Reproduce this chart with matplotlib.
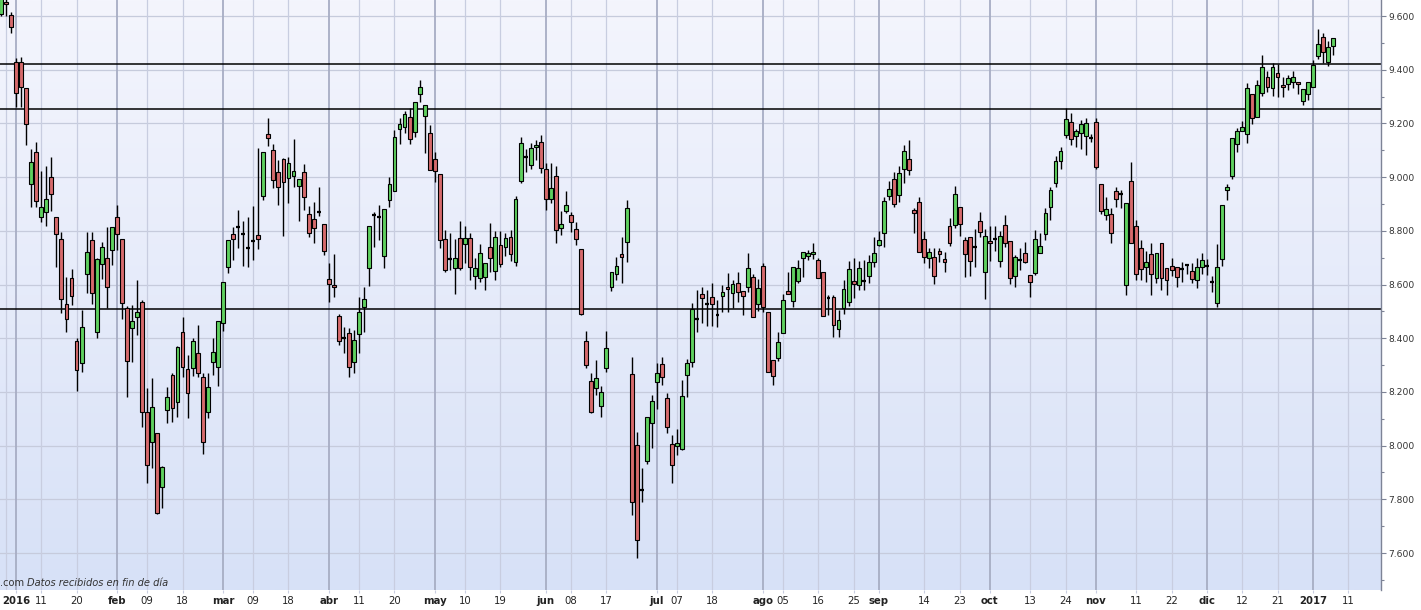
import numpy as np
import pandas as pd
import matplotlib
matplotlib.use("Agg")
import matplotlib.pyplot as plt

# ---------------- data ----------------
first_day = "2015-12-29"
last_day = "2017-01-06"
calendar_end = "2017-01-13"
holidays = ["2016-01-01", "2016-03-25", "2016-03-28", "2016-12-26"]

opens = [9607, 9652, 9604,
 9430, 9430, 9331, 8973, 9092, 8851, 8870, 9000, 8851, 8769,
 8527, 8624, 8390, 8308, 8640, 8766, 8423, 8676, 8699, 8729,
 8851, 8769, 8512, 8438, 8479, 8535, 8125, 8013, 8047, 7846,
 8133, 8263, 8163, 8423, 8285, 8290, 8345, 8256, 8125, 8311,
 8293, 8457, 8665, 8788, 8814, 8788, 8736, 8762, 8784, 8930,
 9160, 9101, 9019, 9067, 8997, 9004, 8967, 9019, 8863, 8844,
 8870, 8825, 8621, 8598, 8483, 8401, 8420, 8311, 8416, 8516,
 8662, 8859, 8851, 8706, 8915, 8948, 9179, 9187, 9224, 9168,
 9309, 9228, 9164, 9067, 9012, 8770, 8695, 8662, 8773, 8751,
 8773, 8632, 8624, 8628, 8740, 8650, 8747, 8740, 8777, 8684,
 8986, 9075, 9045, 9112, 9131, 9030, 8918, 9004, 8810, 8874,
 8859, 8807, 8732, 8390, 8241, 8215, 8148, 8289, 8591, 8639,
 8714, 8758, 8267, 8002, 7835, 7943, 8084, 8237, 8304, 8177,
 8006, 7999, 7988, 8263, 8311, 8472, 8565, 8527, 8554, 8487,
 8557, 8591, 8568, 8606, 8576, 8591, 8628, 8527, 8669, 8498,
 8319, 8326, 8420, 8576, 8539, 8613, 8699, 8706, 8714, 8691,
 8647, 8550, 8554, 8434, 8513, 8535, 8613, 8598, 8613, 8632,
 8684, 8747, 8792, 8930, 8993, 8933, 9030, 9067, 8878, 8907,
 8770, 8699, 8703, 8725, 8695, 8818, 8822, 8889, 8766, 8777,
 8740, 8837, 8647, 8762, 8770, 8688, 8822, 8762, 8632, 8692,
 8718, 8636, 8643, 8718, 8788, 8889, 8978, 9060, 9157, 9205,
 9153, 9164, 9153, 9146, 9205, 8974, 8859, 8863, 8948, 8937,
 8598, 8985, 8818, 8736, 8665, 8714, 8624, 8755, 8662, 8669,
 8665, 8658, 8673, 8650, 8617, 8665, 8669, 8609, 8531, 8695,
 8952, 9004, 9123, 9172, 9160, 9310, 9224, 9313, 9373, 9332,
 9388, 9343, 9347, 9354, 9354, 9283, 9310, 9336, 9451, 9522,
 9429, 9489]

highs = [9690, 9665, 9616,
 9442, 9446, 9331, 9104, 9132, 9023, 9041, 9075, 8851, 8796,
 8628, 8657, 8400, 8505, 8796, 8796, 8700, 8759, 8814, 8814,
 8896, 8769, 8520, 8523, 8617, 8542, 8215, 8252, 8047, 7925,
 8218, 8270, 8370, 8479, 8338, 8400, 8449, 8270, 8270, 8401,
 8464, 8609, 8766, 8814, 8877, 8837, 8851, 8892, 9108, 9093,
 9220, 9123, 9064, 9071, 9075, 9142, 8993, 9049, 8892, 8907,
 8963, 8825, 8680, 8714, 8490, 8442, 8438, 8431, 8554, 8591,
 8818, 8870, 8896, 8881, 9000, 9175, 9220, 9246, 9257, 9280,
 9362, 9269, 9194, 9093, 9012, 8803, 8792, 8770, 8837, 8818,
 8792, 8699, 8751, 8680, 8829, 8800, 8800, 8792, 8803, 8930,
 9150, 9105, 9127, 9138, 9157, 9053, 9053, 9041, 8874, 8948,
 8870, 8833, 8732, 8427, 8270, 8319, 8222, 8427, 8647, 8702,
 8777, 8915, 8330, 8051, 7917, 8107, 8189, 8308, 8330, 8196,
 8040, 8062, 8244, 8323, 8531, 8580, 8591, 8580, 8606, 8542,
 8598, 8643, 8617, 8647, 8576, 8718, 8640, 8621, 8680, 8498,
 8319, 8423, 8565, 8647, 8665, 8691, 8721, 8730, 8755, 8700,
 8647, 8561, 8560, 8505, 8617, 8688, 8699, 8688, 8692, 8710,
 8777, 8800, 8926, 8985, 9019, 9041, 9120, 9138, 8885, 8926,
 8800, 8736, 8736, 8736, 8721, 8848, 8967, 8889, 8777, 8777,
 8807, 8870, 8807, 8818, 8818, 8800, 8859, 8762, 8710, 8736,
 8758, 8636, 8803, 8792, 8885, 8963, 9079, 9112, 9257, 9238,
 9179, 9213, 9220, 9160, 9220, 8974, 8926, 8885, 8963, 8952,
 8904, 9056, 8840, 8766, 8725, 8755, 8718, 8755, 8662, 8699,
 8665, 8684, 8673, 8680, 8699, 8718, 8695, 8632, 8751, 8896,
 8974, 9146, 9183, 9209, 9351, 9310, 9362, 9455, 9395, 9425,
 9421, 9373, 9380, 9395, 9354, 9328, 9354, 9436, 9552, 9537,
 9507, 9518]

lows = [9600, 9600, 9538,
 9262, 9260, 9120, 8890, 8890, 8833, 8818, 8874, 8665, 8494,
 8423, 8523, 8203, 8274, 8568, 8527, 8400, 8620, 8512, 8673,
 8729, 8471, 8181, 8311, 8412, 8069, 7861, 7917, 7745, 7768,
 8084, 8088, 8107, 8256, 8103, 8260, 8256, 7969, 8103, 8263,
 8222, 8427, 8643, 8691, 8736, 8669, 8665, 8691, 8732, 8915,
 9116, 8959, 8896, 8781, 8904, 8963, 8837, 8877, 8777, 8755,
 8855, 8710, 8535, 8553, 8375, 8345, 8256, 8270, 8345, 8423,
 8595, 8740, 8766, 8660, 8889, 8948, 9123, 9164, 9123, 9150,
 9280, 9090, 9026, 8982, 8737, 8647, 8654, 8565, 8654, 8680,
 8617, 8583, 8610, 8580, 8647, 8617, 8665, 8706, 8688, 8670,
 8978, 9019, 9030, 9064, 9015, 8877, 8903, 8755, 8784, 8866,
 8796, 8747, 8485, 8289, 8121, 8189, 8107, 8274, 8577, 8617,
 8606, 8684, 7742, 7582, 7790, 7932, 7991, 8136, 8226, 8047,
 7861, 7965, 7984, 8181, 8293, 8423, 8457, 8446, 8446, 8442,
 8498, 8498, 8513, 8535, 8487, 8572, 8479, 8501, 8498, 8274,
 8226, 8315, 8420, 8565, 8517, 8606, 8628, 8690, 8695, 8624,
 8483, 8487, 8405, 8405, 8490, 8520, 8550, 8580, 8580, 8606,
 8665, 8744, 8740, 8915, 8889, 8907, 8978, 9008, 8792, 8721,
 8680, 8662, 8602, 8684, 8647, 8744, 8810, 8780, 8628, 8632,
 8665, 8777, 8546, 8688, 8725, 8665, 8740, 8602, 8591, 8654,
 8680, 8553, 8636, 8718, 8766, 8840, 8963, 9030, 9146, 9120,
 9112, 9105, 9082, 9130, 9030, 8863, 8840, 8755, 8889, 8885,
 8562, 8755, 8617, 8617, 8609, 8561, 8606, 8580, 8561, 8632,
 8591, 8610, 8640, 8606, 8587, 8640, 8636, 8572, 8516, 8669,
 8915, 8993, 9093, 9172, 9127, 9198, 9224, 9302, 9317, 9302,
 9298, 9298, 9325, 9332, 9310, 9269, 9287, 9336, 9440, 9425,
 9414, 9455]

closes = [9670, 9645, 9560,
 9312, 9334, 9197, 9057, 8910, 8889, 8918, 8937, 8788, 8546,
 8471, 8557, 8282, 8442, 8721, 8568, 8695, 8740, 8591, 8814,
 8788, 8531, 8315, 8464, 8497, 8125, 7928, 8144, 7749, 7920,
 8181, 8140, 8367, 8293, 8196, 8390, 8270, 8013, 8218, 8349,
 8464, 8609, 8766, 8770, 8814, 8788, 8736, 8762, 8770, 9093,
 9145, 8989, 8963, 8982, 9053, 9023, 8993, 8926, 8792, 8810,
 8870, 8725, 8602, 8590, 8390, 8401, 8293, 8393, 8498, 8546,
 8818, 8859, 8851, 8881, 8974, 9149, 9198, 9235, 9142, 9280,
 9336, 9269, 9026, 9023, 8766, 8654, 8695, 8699, 8662, 8773,
 8665, 8662, 8717, 8680, 8699, 8777, 8676, 8773, 8714, 8919,
 9127, 9075, 9108, 9120, 9034, 8918, 8959, 8803, 8825, 8896,
 8833, 8770, 8490, 8300, 8125, 8252, 8200, 8364, 8647, 8669,
 8702, 8885, 7790, 7649, 7835, 8107, 8166, 8270, 8256, 8069,
 7928, 8010, 8185, 8308, 8509, 8472, 8550, 8527, 8527, 8487,
 8572, 8583, 8602, 8572, 8557, 8662, 8479, 8587, 8516, 8274,
 8259, 8386, 8542, 8565, 8665, 8662, 8721, 8717, 8721, 8624,
 8483, 8550, 8449, 8468, 8583, 8658, 8602, 8662, 8613, 8684,
 8718, 8766, 8911, 8956, 8900, 9015, 9097, 9026, 8866, 8721,
 8703, 8721, 8632, 8714, 8684, 8755, 8937, 8826, 8714, 8688,
 8740, 8796, 8781, 8755, 8770, 8781, 8755, 8624, 8703, 8692,
 8684, 8610, 8770, 8744, 8866, 8952, 9060, 9097, 9216, 9142,
 9172, 9198, 9202, 9146, 9038, 8874, 8881, 8792, 8918, 8937,
 8904, 8755, 8639, 8658, 8684, 8639, 8718, 8624, 8617, 8654,
 8628, 8658, 8673, 8621, 8665, 8691, 8669, 8609, 8665, 8896,
 8963, 9146, 9172, 9187, 9332, 9220, 9343, 9410, 9336, 9410,
 9373, 9336, 9369, 9373, 9347, 9328, 9354, 9417, 9496, 9466,
 9485, 9518]

tick_dates = ["2016-01-04", "2016-01-11", "2016-01-20", "2016-02-01", "2016-02-09",
              "2016-02-18", "2016-03-01", "2016-03-09", "2016-03-18", "2016-04-01",
              "2016-04-11", "2016-04-20", "2016-05-02", "2016-05-10", "2016-05-19",
              "2016-06-01", "2016-06-08", "2016-06-17", "2016-07-01", "2016-07-07",
              "2016-07-18", "2016-08-01", "2016-08-05", "2016-08-16", "2016-08-25",
              "2016-09-01", "2016-09-14", "2016-09-23", "2016-10-03", "2016-10-13",
              "2016-10-24", "2016-11-01", "2016-11-11", "2016-11-22", "2016-12-01",
              "2016-12-12", "2016-12-21", "2017-01-02", "2017-01-11"]
tick_labels = ["2016", "11", "20", "feb", "09", "18", "mar", "09", "18", "abr",
               "11", "20", "may", "10", "19", "jun", "08", "17", "jul", "07",
               "18", "ago", "05", "16", "25", "sep", "14", "23", "oct", "13",
               "24", "nov", "11", "22", "dic", "12", "21", "2017", "11"]
bold_labels = {"2016", "2017", "feb", "mar", "abr", "may", "jun", "jul", "ago",
               "sep", "oct", "nov", "dic"}
extra_grid_dates = ["2015-12-30"]

levels = [9421, 9254, 8509]
y_ticks = list(range(7600, 9601, 200))

# ---------------- calendar ----------------
cal = pd.bdate_range(first_day, calendar_end)
cal = cal[~cal.isin(pd.to_datetime(holidays))]
pos_of = {d: i for i, d in enumerate(cal)}
n = len(pd.bdate_range(first_day, last_day).difference(pd.to_datetime(holidays)))
x = np.arange(n)
o = np.array(opens, float); h = np.array(highs, float)
l = np.array(lows, float); c = np.array(closes, float)

W, H = 1421, 610
fig = plt.figure(figsize=(W / 100, H / 100), dpi=100)
ax = fig.add_axes([0, 20 / H, 1381 / W, 590 / H])

x0 = pos_of[pd.Timestamp("2016-01-04")]
xlim = (x0 - 3.171, x0 + 270.5)
ylim = (7462.2, 9659.6)
ax.set_xlim(*xlim)
ax.set_ylim(*ylim)

# background gradient
top = np.array([0xf4, 0xf5, 0xfd]) / 255
bot = np.array([0xd7, 0xe1, 0xf7]) / 255
t = np.linspace(0, 1, 256)[:, None]
grad = (top[None, :] * (1 - t) + bot[None, :] * t)[:, None, :]
ax.imshow(grad, extent=(xlim[0], xlim[1], ylim[0], ylim[1]), aspect="auto",
          origin="upper", zorder=0, interpolation="bilinear")

# grid
for v in y_ticks:
    ax.axhline(v, color="#c6cbdc", lw=0.9, zorder=1)
tick_pos = [pos_of[pd.Timestamp(d)] for d in tick_dates]
for p, lab in zip(tick_pos, tick_labels):
    if lab in bold_labels:
        ax.axvline(p, color="#a7adc4", lw=1.3, zorder=1)
    else:
        ax.axvline(p, color="#c8cde0", lw=0.9, zorder=1)
for d in extra_grid_dates:
    ax.axvline(pos_of[pd.Timestamp(d)], color="#c8cde0", lw=0.9, zorder=1)

# support/resistance lines
for v in levels:
    ax.axhline(v, color="black", lw=1.1, zorder=2)

# candles
up = c > o
dn = c < o
eq = ~(up | dn)
ax.vlines(x, l, h, color="black", lw=1.0, zorder=3)
bw = 0.76
ax.bar(x[up], (c - o)[up], bottom=o[up], width=bw, color="#5fd05f",
       edgecolor="black", linewidth=0.8, zorder=4)
ax.bar(x[dn], (o - c)[dn], bottom=c[dn], width=bw, color="#d66a6c",
       edgecolor="black", linewidth=0.8, zorder=4)
ax.hlines(c[eq], x[eq] - bw / 2, x[eq] + bw / 2, color="black", lw=1.6, zorder=4)

# axes styling
for s in ["left", "top", "bottom"]:
    ax.spines[s].set_visible(False)
ax.spines["right"].set_color("#7d8396")
ax.spines["right"].set_linewidth(1.0)
ax.yaxis.tick_right()
ax.set_yticks(y_ticks)
ax.set_yticks(list(range(7500, 9660, 100)), minor=True)
ax.set_yticklabels([f"{v / 1000:.3f}" for v in y_ticks])
ax.tick_params(axis="y", which="major", length=3.6, width=0.8, color="#7d8396",
               pad=1.6, labelsize=6.6, labelcolor="#333333")
ax.tick_params(axis="y", which="minor", length=2.2, width=0.8, color="#7d8396")

ax.set_xticks(tick_pos)
ax.set_xticklabels(tick_labels)
ax.tick_params(axis="x", length=2, width=0.8, color="#c8cde0", pad=2.2,
               labelsize=7.3, labelcolor="#222222")
for tl in ax.get_xticklabels():
    if tl.get_text() in bold_labels:
        tl.set_fontweight("bold")

fig.text(0 / W, 1 - 583 / H, ".com", fontsize=7.1, color="#333333",
         va="center", ha="left")
fig.text(27 / W, 1 - 583 / H, "Datos recibidos en fin de día", fontsize=7.1,
         color="#333333", va="center", ha="left", style="italic")

fig.savefig("out.png", dpi=100)
